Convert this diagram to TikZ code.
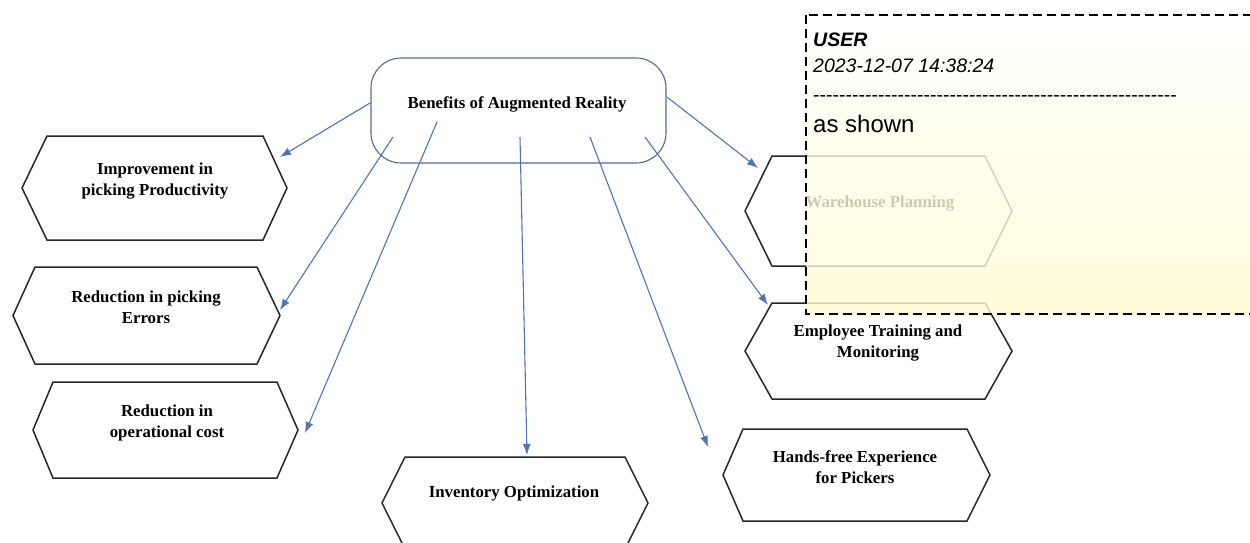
\documentclass[tikz,border=0pt]{standalone}
\usepackage{fontspec}
\setmainfont{Liberation Serif}
\newfontfamily\cmtfont{Liberation Sans}
\usetikzlibrary{arrows.meta}
\definecolor{arrowblue}{RGB}{80,115,185}
\definecolor{boxedge}{RGB}{85,105,145}
\definecolor{noteyellow}{RGB}{255,252,210}
\tikzset{
  hexline/.style={draw=black!85, line width=1.5pt, line join=miter},
  hextext/.style={font=\fontsize{16.8}{20.5}\selectfont\bfseries, align=center, anchor=base, inner sep=0pt},
  flow/.style={draw=arrowblue, line width=1.1pt, -{Latex[length=11pt,width=8pt]}},
  notetext/.style={anchor=base west, inner sep=0pt},
}
\newcommand\hexa[6]{%
  \draw[hexline] (#2,#5) -- (#3,#5) -- (#4,{(#5+#6)/2}) -- (#3,#6) -- (#2,#6) -- (#1,{(#5+#6)/2}) -- cycle;}
\begin{document}
\begin{tikzpicture}[x=1pt,y=-1pt]
\useasboundingbox (0,0) rectangle (1250,542);
\fill[white] (0,0) rectangle (1250,542);

% central node
\node[draw=boxedge, line width=1.1pt, rounded corners=30pt, minimum width=295pt, minimum height=105pt, inner sep=0pt] (c) at (518.5,110.5) {};
\node[hextext] (ct) at (517,108) {Benefits of Augmented Reality};

% hexagons
\hexa{22}{47}{263}{287}{136}{240}
\hexa{13}{35}{257}{280}{267}{364}
\hexa{33}{53}{277}{298}{382}{478}
\hexa{382}{405}{625}{648}{457}{549}
\hexa{723}{743}{967}{990}{429}{521}
\hexa{745}{772}{985}{1012}{303}{399}
\hexa{745}{772}{985}{1012}{156}{266}

\node[hextext] (t1) at (155,195) {Improvement in\\picking Productivity};
\node[hextext] (t2) at (146,323) {Reduction in picking\\Errors};
\node[hextext] (t3) at (167,437) {Reduction in\\operational cost};
\node[hextext] (t4) at (514,497) {Inventory Optimization};
\node[hextext] (t5) at (855,483) {Hands-free Experience\\for Pickers};
\node[hextext] (t6) at (878,357) {Employee Training and\\Monitoring};
\node[hextext] (t7) at (880,207) {Warehouse Planning};

% connector ends
\coordinate (s1) at (370,103); \coordinate (e1) at (280,157);
\coordinate (s2) at (393,137); \coordinate (e2) at (280,310);
\coordinate (s3) at (437,122); \coordinate (e3) at (305,433);
\coordinate (s4) at (520,137); \coordinate (e4) at (527,455);
\coordinate (s5) at (590,137); \coordinate (e5) at (708,447);
\coordinate (s6) at (645,137); \coordinate (e6) at (768,305);
\coordinate (s7) at (667,97);  \coordinate (e7) at (758,168);
\foreach \i in {1,...,7} {\draw[flow] (s\i) -- (e\i);}

% comment box
\shade[top color=white, bottom color=noteyellow, opacity=0.8] (806,15) rectangle (1262,314);
\draw[black, line width=1.6pt, dash pattern=on 9pt off 5pt] (806,15) rectangle (1262,314);
\node[notetext, font=\cmtfont\fontsize{19.5}{23}\selectfont\bfseries\itshape] (n1) at (813,46) {USER};
\node[notetext, font=\cmtfont\fontsize{19.5}{23}\selectfont\itshape] (n2) at (813,72) {2023-12-07 14:38:24};
\node[notetext, font=\cmtfont\fontsize{19.5}{23}\selectfont] (n3) at (813,101) {--{}--{}--{}--{}--{}--{}--{}--{}--{}--{}--{}--{}--{}--{}--{}--{}--{}--{}--{}--{}--{}--{}--{}--{}--{}--{}--{}--{}};
\node[notetext, font=\cmtfont\fontsize{24}{28}\selectfont] (n4) at (813,132) {as shown};
\end{tikzpicture}
\end{document}
